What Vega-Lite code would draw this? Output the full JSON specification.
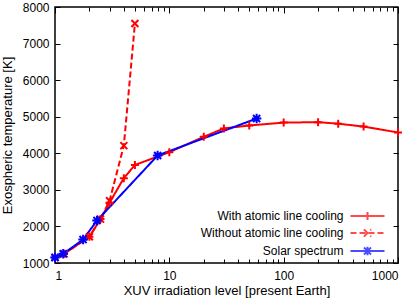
{
  "$schema": "https://vega.github.io/schema/vega-lite/v6.json",
  "width": 343,
  "height": 256,
  "autosize": {"type": "none"},
  "padding": {"left": 55, "top": 7, "right": 17, "bottom": 40},
  "data": {
    "values": [
      {"series": "With atomic line cooling", "x": 1, "y": 1150},
      {"series": "With atomic line cooling", "x": 1.2, "y": 1250},
      {"series": "With atomic line cooling", "x": 2, "y": 1720},
      {"series": "With atomic line cooling", "x": 2.5, "y": 2200},
      {"series": "With atomic line cooling", "x": 3, "y": 2650},
      {"series": "With atomic line cooling", "x": 4, "y": 3320},
      {"series": "With atomic line cooling", "x": 5, "y": 3680},
      {"series": "With atomic line cooling", "x": 10, "y": 4030},
      {"series": "With atomic line cooling", "x": 20, "y": 4450},
      {"series": "With atomic line cooling", "x": 30, "y": 4680},
      {"series": "With atomic line cooling", "x": 50, "y": 4760},
      {"series": "With atomic line cooling", "x": 100, "y": 4840},
      {"series": "With atomic line cooling", "x": 200, "y": 4850},
      {"series": "With atomic line cooling", "x": 300, "y": 4810},
      {"series": "With atomic line cooling", "x": 500, "y": 4730},
      {"series": "With atomic line cooling", "x": 1000, "y": 4570},
      {"series": "Without atomic line cooling", "x": 1, "y": 1150},
      {"series": "Without atomic line cooling", "x": 1.2, "y": 1250},
      {"series": "Without atomic line cooling", "x": 2, "y": 1720},
      {"series": "Without atomic line cooling", "x": 2.5, "y": 2200},
      {"series": "Without atomic line cooling", "x": 3, "y": 2700},
      {"series": "Without atomic line cooling", "x": 4, "y": 4210},
      {"series": "Without atomic line cooling", "x": 5, "y": 7550},
      {"series": "Solar spectrum", "x": 1, "y": 1150},
      {"series": "Solar spectrum", "x": 1.18, "y": 1250},
      {"series": "Solar spectrum", "x": 1.76, "y": 1640},
      {"series": "Solar spectrum", "x": 2.33, "y": 2160},
      {"series": "Solar spectrum", "x": 7.9, "y": 3940},
      {"series": "Solar spectrum", "x": 58, "y": 4950}
    ]
  },
  "layer": [
    {
      "mark": {"type": "line", "strokeWidth": 2, "clip": true},
      "encoding": {
        "x": {
          "field": "x", "type": "quantitative",
          "scale": {"type": "log", "domain": [1, 1000]},
          "axis": {
            "orient": "bottom",
            "title": "XUV irradiation level [present Earth]",
            "values": [1,2,3,4,5,6,7,8,9,10,20,30,40,50,60,70,80,90,100,200,300,400,500,600,700,800,900,1000],
            "format": "d",
            "labelExpr": "abs(log(datum.value)/LN10 - round(log(datum.value)/LN10)) < 0.001 ? datum.label : ''",
            "tickSize": {"condition": {"test": "abs(log(datum.value)/LN10 - round(log(datum.value)/LN10)) < 0.001", "value": -6}, "value": -4},
            "labelPadding": 13,
            "titlePadding": 3
          }
        },
        "y": {
          "field": "y", "type": "quantitative",
          "scale": {"domain": [1000, 8000]},
          "axis": {
            "orient": "left",
            "title": "Exospheric temperature [K]",
            "values": [1000,2000,3000,4000,5000,6000,7000,8000],
            "format": "d",
            "tickSize": -5,
            "labelPadding": 11,
            "titlePadding": 8
          }
        },
        "color": {
          "field": "series", "type": "nominal",
          "scale": {"domain": ["With atomic line cooling", "Without atomic line cooling", "Solar spectrum"], "range": ["#ff0000", "#ff0000", "#0000ff"]},
          "legend": {"title": null, "orient": "none", "legendX": 306.5, "legendY": 203, "padding": 0, "rowPadding": 1, "symbolSize": 100, "symbolStrokeWidth": 2, "labelAlign": "right", "labelOffset": -30, "labelFontSize": 12, "labelFont": "Liberation Sans", "labelColor": "black"}
        },
        "strokeDash": {
          "field": "series", "type": "nominal",
          "scale": {"domain": ["With atomic line cooling", "Without atomic line cooling", "Solar spectrum"], "range": [[1, 0], [6, 3], [1, 0]]},
          "legend": {"title": null, "orient": "none", "legendX": 306.5, "legendY": 203, "padding": 0, "rowPadding": 1, "symbolSize": 100, "symbolStrokeWidth": 2, "labelAlign": "right", "labelOffset": -30, "labelFontSize": 12, "labelFont": "Liberation Sans", "labelColor": "black"}
        }
      }
    },
    {
      "transform": [{"filter": "false"}],
      "mark": {"type": "point", "filled": false, "strokeWidth": 2},
      "encoding": {
        "x": {"field": "x", "type": "quantitative", "axis": null},
        "y": {"field": "y", "type": "quantitative", "axis": null},
        "color": {
          "field": "series", "type": "nominal",
          "legend": {"title": null, "orient": "none", "legendX": 306.5, "legendY": 203, "padding": 0, "rowPadding": 1, "symbolSize": 100, "symbolStrokeWidth": 2, "labelAlign": "right", "labelOffset": -30, "labelFontSize": 12, "labelFont": "Liberation Sans", "labelColor": "black"}
        },
        "strokeDash": {
          "field": "series", "type": "nominal",
          "legend": {"title": null, "orient": "none", "legendX": 306.5, "legendY": 203, "padding": 0, "rowPadding": 1, "symbolSize": 100, "symbolStrokeWidth": 2, "labelAlign": "right", "labelOffset": -30, "labelFontSize": 12, "labelFont": "Liberation Sans", "labelColor": "black"}
        },
        "shape": {
          "field": "series", "type": "nominal",
          "scale": {"domain": ["With atomic line cooling", "Without atomic line cooling", "Solar spectrum"], "range": ["M-3.4,0H3.4M0,-0.8V0.8", "M-3.4,0H3.4M-0.72,-0.72L0.72,0.72M-0.72,0.72L0.72,-0.72", "M-3.4,0H3.4M0,-0.85V0.85M-0.7,-0.7L0.7,0.7M-0.7,0.7L0.7,-0.7"]},
          "legend": {"title": null, "orient": "none", "legendX": 306.5, "legendY": 203, "padding": 0, "rowPadding": 1, "symbolSize": 100, "symbolStrokeWidth": 2, "labelAlign": "right", "labelOffset": -30, "labelFontSize": 12, "labelFont": "Liberation Sans", "labelColor": "black"}
        }
      }
    },
    {
      "transform": [{"filter": "datum.series === 'With atomic line cooling'"}],
      "mark": {"type": "point", "filled": false, "strokeWidth": 2, "opacity": 1, "color": "#ff0000", "shape": "M-1,0H1M0,-1V1", "size": 64},
      "encoding": {
        "x": {
          "field": "x", "type": "quantitative",
          "axis": {
            "orient": "top",
            "title": null,
            "labels": false,
            "values": [1,2,3,4,5,6,7,8,9,10,20,30,40,50,60,70,80,90,100,200,300,400,500,600,700,800,900,1000],
            "tickSize": {"condition": {"test": "abs(log(datum.value)/LN10 - round(log(datum.value)/LN10)) < 0.001", "value": -6}, "value": -4}
          }
        },
        "y": {
          "field": "y", "type": "quantitative",
          "axis": {
            "orient": "right",
            "title": null,
            "labels": false,
            "values": [1000,2000,3000,4000,5000,6000,7000,8000],
            "tickSize": -5
          }
        }
      }
    },
    {
      "transform": [{"filter": "datum.series === 'Without atomic line cooling'"}],
      "mark": {"type": "point", "filled": false, "strokeWidth": 2, "opacity": 1, "color": "#ff0000", "shape": "M-1,-1L1,1M-1,1L1,-1", "size": 49},
      "encoding": {
        "x": {"field": "x", "type": "quantitative", "axis": null},
        "y": {"field": "y", "type": "quantitative", "axis": null}
      }
    },
    {
      "transform": [{"filter": "datum.series === 'Solar spectrum'"}],
      "mark": {"type": "point", "filled": false, "strokeWidth": 2, "opacity": 1, "color": "#0000ff", "shape": "M-1,0H1M0,-1V1M-0.75,-0.75L0.75,0.75M-0.75,0.75L0.75,-0.75", "size": 90},
      "encoding": {
        "x": {"field": "x", "type": "quantitative", "axis": null},
        "y": {"field": "y", "type": "quantitative", "axis": null}
      }
    }
  ],
  "config": {
    "view": {"stroke": "black", "strokeWidth": 1.5},
    "font": "Liberation Sans",
    "legend": {"rowPadding": 1},
    "axis": {
      "domain": false,
      "grid": false,
      "tickColor": "black",
      "tickWidth": 1,
      "labelColor": "black",
      "labelFont": "Liberation Sans",
      "labelFontSize": 12,
      "titleFont": "Liberation Sans",
      "titleFontSize": 13,
      "titleFontWeight": "normal",
      "titleColor": "black"
    }
  }
}
